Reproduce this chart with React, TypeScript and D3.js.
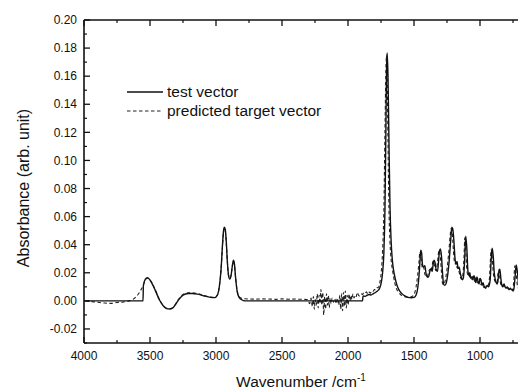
import React from "react";
import * as d3 from "d3";

// Wavenumber (cm-1), absorbance
const testWave = [4000,3900,3800,3700,3600,3553,3550,3535,3520,3505,3485,3460,3430,3400,3375,3350,3330,3310,3285,3250,3210,3180,3140,3090,3040,3010,2990,2975,2962,2952,2944,2937,2930,2922,2914,2905,2896,2886,2876,2868,2860,2852,2840,2825,2805,2780,2700,2600,2500,2400,2300,2200,2100,2000,1950,1890,1886,1870,1855,1840,1825,1810,1795,1780,1768,1758,1748,1738,1728,1720,1713,1708,1703,1697,1690,1682,1673,1664,1655,1645,1632,1615,1595,1570,1545,1520,1500,1485,1472,1462,1455,1449,1442,1436,1428,1418,1408,1400,1390,1380,1370,1362,1355,1348,1340,1332,1322,1314,1308,1300,1292,1284,1276,1266,1255,1244,1234,1226,1219,1213,1206,1198,1190,1182,1174,1166,1158,1150,1142,1134,1127,1121,1115,1108,1100,1092,1084,1077,1070,1062,1054,1046,1039,1031,1023,1015,1007,1000,993,985,977,968,958,946,936,928,922,916,908,900,892,884,877,870,864,858,850,842,834,826,818,810,802,794,786,778,770,762,756,750,744,736,726,716,705,690,670,650];
const testAbs = [0,0,0,0,0,0,0.011,0.0155,0.0165,0.0155,0.0125,0.0075,0.001,-0.0035,-0.0055,-0.0058,-0.0052,-0.003,0.0005,0.004,0.0052,0.0053,0.0048,0.0035,0.0025,0.0023,0.004,0.010,0.022,0.038,0.049,0.0525,0.051,0.042,0.028,0.018,0.0155,0.018,0.025,0.029,0.026,0.017,0.007,0.0025,0.0008,0,0,0,0,0,0,0,0,0,0,0,0.0035,0.0032,0.004,0.0045,0.0042,0.005,0.0058,0.0068,0.0078,0.0095,0.013,0.02,0.035,0.065,0.12,0.165,0.1765,0.16,0.115,0.068,0.042,0.029,0.022,0.017,0.012,0.008,0.0055,0.0035,0.0025,0.0022,0.0025,0.004,0.009,0.018,0.028,0.036,0.034,0.026,0.024,0.025,0.019,0.017,0.017,0.021,0.023,0.021,0.026,0.029,0.027,0.022,0.021,0.028,0.035,0.037,0.032,0.020,0.012,0.011,0.013,0.019,0.028,0.038,0.047,0.0525,0.051,0.043,0.031,0.026,0.028,0.023,0.024,0.020,0.017,0.015,0.016,0.021,0.032,0.046,0.038,0.022,0.018,0.020,0.016,0.017,0.015,0.018,0.016,0.013,0.017,0.014,0.012,0.016,0.015,0.011,0.013,0.010,0.009,0.011,0.010,0.012,0.016,0.028,0.0375,0.032,0.020,0.015,0.013,0.012,0.014,0.020,0.0225,0.016,0.011,0.010,0.012,0.010,0.009,0.010,0.009,0.008,0.009,0.008,0.008,0.007,0.008,0.015,0.0255,0.020,0.010,0.008,0.007,0.008,0.007,0.008];

const predWave = [4000,3950,3900,3850,3800,3750,3700,3660,3630,3610,3595,3580,3565,3553,3540,3520,3505,3485,3460,3430,3400,3375,3350,3330,3310,3285,3250,3210,3180,3140,3090,3040,3010,2990,2975,2962,2952,2944,2937,2930,2922,2914,2905,2896,2886,2876,2868,2860,2852,2840,2825,2805,2780,2740,2700,2650,2600,2550,2500,2450,2400,2350,2310,2290,2280,2270,2262,2255,2248,2240,2233,2226,2219,2212,2205,2198,2191,2184,2177,2170,2163,2156,2149,2142,2135,2128,2120,2110,2100,2090,2080,2070,2062,2055,2048,2041,2034,2027,2020,2013,2006,1999,1992,1985,1978,1970,1962,1954,1946,1938,1930,1920,1910,1900,1890,1880,1870,1860,1850,1840,1830,1820,1810,1800,1790,1780,1768,1758,1748,1738,1728,1720,1713,1708,1703,1697,1690,1682,1673,1664,1655,1645,1632,1615,1595,1570,1545,1520,1500,1485,1472,1462,1455,1449,1442,1436,1428,1418,1408,1400,1390,1380,1370,1362,1355,1348,1340,1332,1322,1314,1308,1300,1292,1284,1276,1266,1255,1244,1234,1226,1219,1213,1206,1198,1190,1182,1174,1166,1158,1150,1142,1134,1127,1121,1115,1108,1100,1092,1084,1077,1070,1062,1054,1046,1039,1031,1023,1015,1007,1000,993,985,977,968,958,946,936,928,922,916,908,900,892,884,877,870,864,858,850,842,834,826,818,810,802,794,786,778,770,762,756,750,744,736,726,716,705,690,670,650];
const predAbs = [0,-0.0005,-0.001,-0.0015,-0.0018,-0.0012,-0.0008,0,0.001,0.0025,0.004,0.006,0.0085,0.0105,0.014,0.0163,0.0155,0.0127,0.0078,0.0012,-0.0032,-0.0052,-0.0056,-0.005,-0.0028,0.001,0.0045,0.0057,0.0058,0.0052,0.0038,0.0027,0.0025,0.0042,0.0102,0.022,0.037,0.048,0.0515,0.050,0.041,0.028,0.0185,0.016,0.0185,0.025,0.0285,0.0255,0.017,0.0075,0.003,0.0018,0.0015,0.0013,0.0012,0.0014,0.0013,0.0011,0.0014,0.0012,0.0013,0.0011,0.001,-0.002,0.002,-0.004,0.003,-0.006,0.001,-0.003,0.005,-0.005,0.004,-0.002,0.008,-0.003,0.006,-0.010,0.003,-0.006,0.005,-0.003,0.004,-0.005,0.002,-0.002,0.002,-0.001,0.0015,-0.002,0.002,-0.003,0.004,-0.006,0.005,-0.007,0.006,-0.004,0.007,-0.005,0.004,-0.003,0.005,0.0,0.004,0.001,0.005,0.002,0.004,0.003,0.006,0.004,0.0035,0.005,0.0045,0.006,0.0055,0.0065,0.0048,0.0062,0.0055,0.0072,0.0068,0.008,0.0078,0.0092,0.0098,0.0135,0.0205,0.0355,0.066,0.121,0.164,0.175,0.158,0.113,0.067,0.042,0.029,0.0225,0.0175,0.0125,0.0085,0.006,0.004,0.003,0.0026,0.003,0.0045,0.0095,0.0185,0.028,0.035,0.033,0.0265,0.0235,0.0245,0.019,0.0175,0.0168,0.0205,0.0225,0.021,0.0255,0.0285,0.0265,0.0225,0.0215,0.0275,0.0345,0.036,0.031,0.0205,0.0125,0.0115,0.0135,0.019,0.0275,0.0375,0.0465,0.0515,0.0505,0.0425,0.0315,0.0265,0.0275,0.0235,0.0235,0.0205,0.0175,0.0155,0.0165,0.0215,0.0315,0.045,0.0375,0.0225,0.0185,0.0195,0.0165,0.0165,0.0155,0.0175,0.0165,0.0135,0.0165,0.0145,0.0125,0.0155,0.0155,0.0115,0.0125,0.0105,0.0095,0.0105,0.0105,0.0115,0.0165,0.0275,0.0365,0.0315,0.0205,0.0155,0.0135,0.0125,0.0135,0.0195,0.022,0.0165,0.0115,0.0105,0.0115,0.0105,0.0095,0.0095,0.0095,0.0085,0.0085,0.0085,0.0085,0.0075,0.0085,0.0145,0.025,0.0195,0.0105,0.0085,0.0075,0.0075,0.0075,0.0085];

const xTicks = [4000, 3500, 3000, 2500, 2000, 1500, 1000];
const xMinorTicks = [3750, 3250, 2750, 2250, 1750, 1250, 750];
const yTicks = [-0.02, 0.0, 0.02, 0.04, 0.06, 0.08, 0.1, 0.12, 0.14, 0.16, 0.18, 0.2];
const yMinorTicks = [-0.03, -0.01, 0.01, 0.03, 0.05, 0.07, 0.09, 0.11, 0.13, 0.15, 0.17, 0.19];

const legendLabels = ["test vector", "predicted target vector"];

const W = 518, H = 390;
const left = 84, top = 20, bottom = 343;
const right = left + 3600 * 0.132;

export default function App() {
  const x = d3.scaleLinear().domain([4000, 400]).range([left, right]);
  const y = d3.scaleLinear().domain([-0.03, 0.2]).range([bottom, top]);
  const line = d3.line<[number, number]>().x(d => x(d[0])).y(d => y(d[1])).curve(d3.curveMonotoneX);
  const testData: [number, number][] = testWave.map((w, i) => [w, testAbs[i]]);
  const predData: [number, number][] = predWave.map((w, i) => [w, predAbs[i]]);
  const tPath = line([...testData].reverse()) || "";
  const pPath = line([...predData].reverse()) || "";
  const font = "Liberation Sans, Arial, Helvetica, sans-serif";
  const ink = "#111";
  return (
    <svg width={W} height={H} style={{ position: "absolute", left: 0, top: 0, background: "#fff" }} fontFamily={font}>
      <defs>
        <clipPath id="plot">
          <rect x={left} y={top} width={right - left} height={bottom - top} />
        </clipPath>
      </defs>
      <g clipPath="url(#plot)">
        <path d={pPath} fill="none" stroke="#222" strokeWidth={1.1} strokeDasharray="3.5,2.5" />
        <path d={tPath} fill="none" stroke={ink} strokeWidth={1.4} />
      </g>
      <line x1={left} x2={W} y1={top} y2={top} stroke={ink} strokeWidth={1.6} />
      <line x1={left} x2={W} y1={bottom} y2={bottom} stroke={ink} strokeWidth={1.6} />
      <line x1={left} x2={left} y1={top} y2={bottom} stroke={ink} strokeWidth={1.6} />
      {xTicks.map(t => (
        <g key={"x" + t}>
          <line x1={x(t)} x2={x(t)} y1={bottom} y2={bottom - 6} stroke={ink} strokeWidth={1.3} />
          <line x1={x(t)} x2={x(t)} y1={top} y2={top + 6} stroke={ink} strokeWidth={1.3} />
          <text x={x(t)} y={360} textAnchor="middle" fontSize={12} fill={ink}>{t}</text>
        </g>
      ))}
      {xMinorTicks.map(t => (
        <g key={"xm" + t}>
          <line x1={x(t)} x2={x(t)} y1={bottom} y2={bottom - 3} stroke={ink} strokeWidth={1.2} />
          <line x1={x(t)} x2={x(t)} y1={top} y2={top + 3} stroke={ink} strokeWidth={1.2} />
        </g>
      ))}
      {yTicks.map(t => (
        <g key={"y" + t}>
          <line x1={left} x2={left + 6} y1={y(t)} y2={y(t)} stroke={ink} strokeWidth={1.3} />
          <text x={77} y={y(t)} dy="0.35em" textAnchor="end" fontSize={12} fill={ink}>{t.toFixed(2)}</text>
        </g>
      ))}
      {yMinorTicks.map(t => (
        <line key={"ym" + t} x1={left} x2={left + 3} y1={y(t)} y2={y(t)} stroke={ink} strokeWidth={1.2} />
      ))}
      <text x={301} y={387} textAnchor="middle" fontSize={15.5} fill={ink}>
        Wavenumber /cm<tspan dy="-6" fontSize={10}>-1</tspan>
      </text>
      <text transform="translate(29,188) rotate(-90)" textAnchor="middle" fontSize={16} fill={ink}>Absorbance (arb. unit)</text>
      <line x1={127} x2={163} y1={92} y2={92} stroke={ink} strokeWidth={1.4} />
      <text x={167} y={92} dy="0.35em" fontSize={15.5} fill={ink}>{legendLabels[0]}</text>
      <line x1={127} x2={163} y1={111} y2={111} stroke="#222" strokeWidth={1.1} strokeDasharray="3.5,2.5" />
      <text x={167} y={111} dy="0.35em" fontSize={15.5} fill={ink}>{legendLabels[1]}</text>
    </svg>
  );
}
